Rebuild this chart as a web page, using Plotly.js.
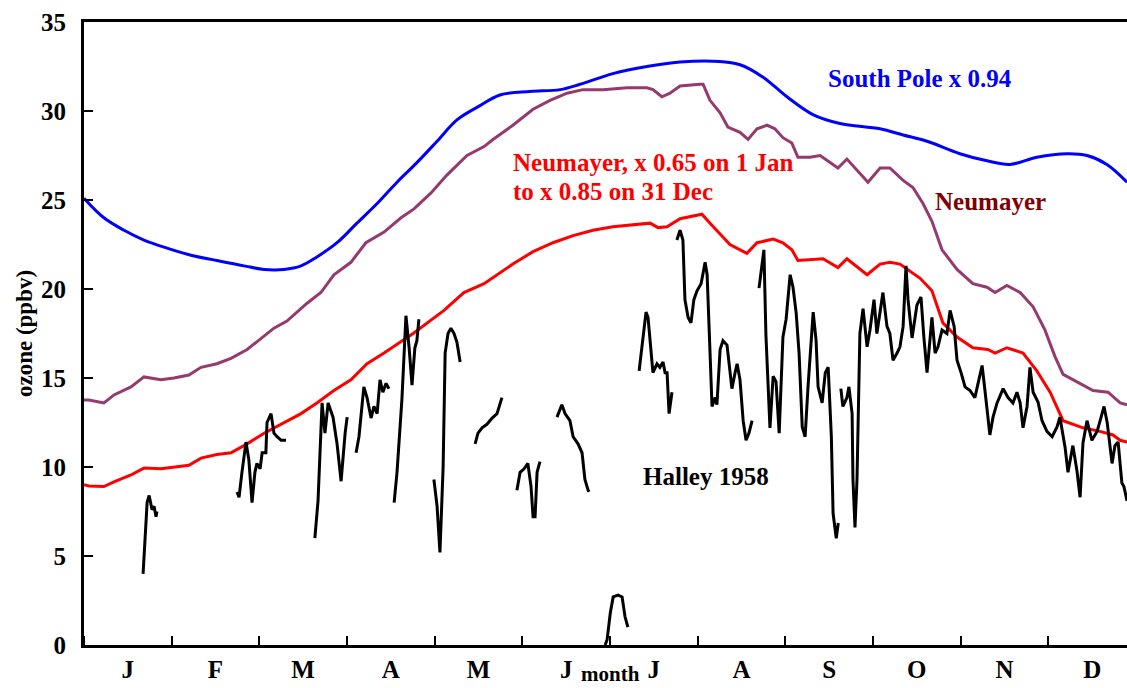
<!DOCTYPE html>
<html>
<head>
<meta charset="utf-8">
<script src="https://cdn.plot.ly/plotly-3.0.1.min.js"></script>
<style>
html,body{margin:0;padding:0;overflow:hidden;background:#fff;}
#chart{width:1140px;height:688px;}
</style>
</head>
<body>
<div id="chart"></div>
<script>
// ---- data (x = day of year, y = ozone ppbv) ----
const monthLabels = ['J','F','M','A','M','J','J','A','S','O','N','D'];

const southPoleDay = [0,6.9,13.9,20.8,28.8,37.1,46.1,55.5,62.5,69.4,75.3,80.8,87.8,94.7,101.7,108.6,115.5,122.5,129.4,137.4,144.3,154.7,165.2,172.1,183.5,195.3,206.8,218.2,227.6,235.6,243.9,252.9,262.3,276.2,284.2,292.5,303.9,313.3,321.3,330.6,341.1,348.0,354.9,361.9];
const southPoleO3 = [25.1,24.0,23.3,22.75,22.3,21.9,21.6,21.3,21.1,21.1,21.3,21.8,22.6,23.7,24.8,26.0,27.1,28.3,29.5,30.3,30.9,31.1,31.2,31.5,32.1,32.5,32.75,32.8,32.6,31.9,30.8,29.8,29.3,29.0,28.65,28.3,27.6,27.2,27.0,27.4,27.6,27.5,27.0,26.0];

const neumayerDay = [0,1.7,6.9,10.4,16.3,20.8,26.7,31.2,36.4,40.6,46.1,51.0,56.6,61.4,65.9,70.4,77.4,82.2,86.7,92.6,97.8,104.1,110.0,114.5,120.4,125.9,132.9,138.8,141.9,148.8,155.8,161.7,167.6,173.1,180.1,188.4,195.3,197.4,200.5,203.3,206.8,213.7,214.8,217.2,220.7,223.4,227.6,230.4,233.5,237.0,239.7,242.5,245.6,247.7,251.9,255.4,258.8,261.6,264.7,268.2,272.0,276.2,279.6,284.2,287.6,291.1,294.2,297.7,302.9,308.4,313.3,316.1,320.2,324.8,329.3,333.4,336.9,339.7,344.5,350.1,355.3,359.5,361.9];
const neumayerO3 = [13.76,13.76,13.6,14.05,14.5,15.06,14.9,15.0,15.17,15.6,15.8,16.1,16.6,17.2,17.8,18.2,19.2,19.8,20.8,21.5,22.6,23.2,24.0,24.5,25.4,26.4,27.5,28.0,28.4,29.2,30.1,30.6,31.0,31.2,31.2,31.3,31.3,31.2,30.8,31.0,31.4,31.5,31.5,30.6,29.9,29.1,28.8,28.4,29.0,29.2,29.0,28.5,28.2,27.4,27.4,27.5,27.1,26.8,27.3,26.7,26.0,26.8,26.8,26.1,25.7,24.8,23.8,22.2,21.1,20.3,20.1,19.8,20.2,19.8,19.0,17.7,16.2,15.2,14.8,14.3,14.2,13.6,13.5];

const scaledDay = [0,1.7,6.9,10.4,16.3,20.8,26.7,31.2,36.4,40.6,46.1,51.0,56.6,62.5,69.4,75.3,80.8,86.7,92.6,98.2,104.1,114.2,124.9,131.8,138.8,148.8,155.8,162.7,169.7,176.6,183.5,190.5,196.4,199.2,202.3,206.8,214.4,217.2,220.7,224.1,230.0,233.5,239.1,242.5,245.6,247.7,256.4,261.6,264.7,271.7,276.2,279.6,283.1,290.1,294.2,298.0,302.9,308.4,313.6,316.1,320.2,325.8,330.6,335.2,339.7,346.6,352.5,357.0,359.5,361.9];
const scaledO3 = [9.0,8.93,8.9,9.16,9.55,9.94,9.9,10.0,10.1,10.5,10.7,10.8,11.3,11.9,12.5,13.0,13.6,14.3,14.9,15.8,16.4,17.5,18.8,19.8,20.3,21.4,22.1,22.6,23.0,23.3,23.5,23.6,23.7,23.45,23.5,23.95,24.2,23.7,23.1,22.5,22.0,22.6,22.8,22.6,22.2,21.6,21.7,21.2,21.7,20.8,21.4,21.5,21.4,20.6,19.9,18.1,17.3,16.7,16.6,16.4,16.7,16.4,15.4,14.2,12.6,12.2,12.0,11.8,11.5,11.4];

// Halley 1958: segments separated by null gaps
const halleyDay = [
 20.5,21.2,21.5,21.9,22.6,23.2,23.6,24.3,25.0,25.3,null,
 53.1,53.8,54.8,56.2,57.2,58.3,59.3,60.0,61.1,61.8,63.1,63.5,64.9,65.9,67.0,68.4,69.4,70.1,null,
 80.1,81.2,82.6,83.6,84.7,86.4,87.8,89.2,90.6,91.3,null,
 94.4,95.4,97.1,98.2,99.6,100.6,101.7,102.7,103.7,104.8,105.8,null,
 107.6,108.6,110.3,111.7,112.8,113.8,114.8,115.5,116.2,null,
 121.4,122.5,123.5,124.6,125.3,126.3,127.3,128.4,129.4,130.5,null,
 135.7,136.7,138.1,139.8,141.6,143.3,145.0,null,
 150.2,151.3,152.7,154.0,155.1,155.8,156.5,157.2,158.2,null,
 164.1,165.8,166.9,168.6,169.7,171.4,172.8,173.8,174.9,175.2,null,
 180.8,181.5,182.6,183.6,185.3,186.7,187.7,188.7,null,
 192.6,193.6,195.0,195.7,196.7,197.4,198.8,199.8,200.9,201.6,202.3,203.0,204.0,null,
 205.7,206.8,207.8,208.5,209.6,210.6,211.6,212.7,214.1,215.5,216.2,216.9,217.9,219.0,219.6,220.7,221.7,223.1,223.8,224.8,225.9,226.6,227.6,228.7,229.7,230.7,231.8,null,
 234.2,235.2,235.9,236.6,237.3,238.0,239.1,240.1,241.2,242.5,243.6,245.0,246.0,247.1,248.1,249.2,250.2,251.2,253.0,254.0,254.7,256.1,257.2,258.2,259.3,259.9,261.0,261.7,null,
 262.6,263.3,264.7,265.4,266.5,266.8,267.5,268.2,269.2,270.3,271.7,272.7,274.1,275.1,277.2,278.6,279.6,280.7,282.1,283.1,284.2,285.2,285.9,287.3,289.0,290.4,291.4,292.5,294.2,295.3,296.3,297.7,299.4,300.5,301.9,302.9,304.3,305.7,307.4,309.1,310.2,311.6,312.6,314.3,315.4,316.8,318.9,320.6,322.3,323.7,324.8,325.8,327.2,328.2,329.3,331.0,332.4,334.1,335.9,337.6,338.6,340.4,341.4,343.1,344.5,345.6,346.6,348.0,349.7,351.5,352.9,353.9,355.0,356.7,357.7,358.8,360.1,360.8,361.9
];
const halleyO3 = [
 4.0,6.0,7.0,8.0,8.4,7.9,7.6,7.8,7.2,7.5,null,
 8.6,8.3,9.7,11.4,10.4,8.0,9.7,10.2,9.9,10.8,10.8,12.5,13.0,11.9,11.7,11.5,11.5,11.5,null,
 6.0,8.1,13.6,11.9,13.6,12.8,11.3,9.2,11.9,12.8,null,
 10.8,11.7,14.5,13.9,12.75,13.4,13.0,14.9,14.2,14.7,14.4,null,
 8.0,9.7,13.8,18.5,16.7,14.6,16.7,17.1,18.3,null,
 9.3,7.8,5.2,10.0,16.4,17.5,17.8,17.5,17.0,15.9,null,
 11.3,11.9,12.2,12.4,12.75,13.0,13.9,null,
 8.7,9.7,9.9,10.2,8.9,7.2,7.2,9.7,10.3,null,
 12.8,13.5,13.0,12.6,11.7,11.3,10.8,9.3,8.7,8.6,null,
 0.0,0.3,1.8,2.7,2.8,2.7,1.6,1.0,null,
 15.4,16.7,18.7,18.4,16.7,15.3,15.8,15.6,15.9,15.3,15.3,13.0,14.2,null,
 22.75,23.3,22.75,19.4,18.4,18.1,19.4,19.9,20.3,21.5,20.8,18.1,13.4,13.9,13.5,16.6,17.1,16.85,15.8,14.4,15.3,15.8,14.9,12.6,11.5,11.9,12.6,null,
 20.05,21.5,22.2,17.4,14.5,12.2,15.1,14.8,11.9,17.3,18.3,20.8,20.1,18.65,16.4,12.25,11.7,14.5,18.7,17.1,14.5,13.6,15.3,15.6,11.7,7.4,6.0,6.85,null,
 14.4,13.4,13.9,14.5,13.0,9.3,6.6,9.3,17.5,18.9,16.75,17.7,19.4,17.5,19.8,17.9,17.5,16.0,16.4,16.75,17.9,21.3,19.4,17.25,19.1,19.55,17.3,15.3,18.4,16.4,16.75,17.7,17.5,18.8,17.9,16.0,15.3,14.5,14.3,13.9,14.7,15.7,14.3,11.8,12.8,13.6,14.4,13.9,13.6,14.2,13.6,12.2,13.4,15.6,14.2,13.65,12.6,12.0,11.7,12.25,12.8,11.1,9.7,11.2,9.8,8.3,11.35,12.6,11.5,12.0,12.8,13.4,12.5,10.2,11.2,11.4,9.1,8.9,8.1
];

// ---- axis helpers (month geometry) ----
const monthLen = 365/12;
const monthCenters = monthLabels.map((_, i) => (i + 0.5) * monthLen);

const FONT = '"Liberation Serif", "Times New Roman", Times, serif';

const traces = [
  {x: southPoleDay, y: southPoleO3, mode: 'lines', name: 'South Pole x 0.94',
   line: {color: '#0000ff', width: 3, shape: 'spline'}},
  {x: neumayerDay, y: neumayerO3, mode: 'lines', name: 'Neumayer',
   line: {color: '#953a6e', width: 3}},
  {x: scaledDay, y: scaledO3, mode: 'lines', name: 'Neumayer scaled',
   line: {color: '#ff0000', width: 3}},
  {x: halleyDay, y: halleyO3, mode: 'lines', name: 'Halley 1958', connectgaps: false,
   line: {color: '#000000', width: 3}}
];

const annFont = (c, s) => ({family: FONT, size: s || 25, color: c, weight: 'bold'});

const layout = {
  width: 1140, height: 688,
  margin: {l: 84, r: 4, t: 22, b: 43},
  paper_bgcolor: '#fff', plot_bgcolor: '#fff',
  showlegend: false,
  font: {family: FONT, size: 25, color: '#000', weight: 'bold'},
  xaxis: {
    range: [0, 365], showgrid: false, zeroline: false,
    showline: true, linecolor: '#000', linewidth: 3, mirror: true,
    tickmode: 'array', tickvals: monthCenters, ticktext: monthLabels, ticks: '',
    tickfont: {family: FONT, size: 25, color: '#000', weight: 'bold'},
    minor: {tickmode: 'linear', tick0: 0, dtick: monthLen, ticks: 'inside', ticklen: 9, tickwidth: 2, tickcolor: '#000', showgrid: false}
  },
  yaxis: {
    range: [0, 35], dtick: 5, tick0: 0, showgrid: false, zeroline: false,
    showline: true, linecolor: '#000', linewidth: 3, mirror: true,
    ticks: 'inside', ticklen: 9, tickwidth: 2, tickcolor: '#000',
    ticklabelstandoff: 10,
    tickfont: {family: FONT, size: 25, color: '#000', weight: 'bold'},
    title: {text: 'ozone (ppbv)', font: {family: FONT, size: 23, color: '#000', weight: 'bold'}, standoff: 2}
  },
  annotations: [
    {xref: 'paper', yref: 'paper', x: 0.5, y: -0.0674, xanchor: 'center', yanchor: 'bottom', showarrow: false,
     text: 'month', font: annFont('#000', 21), borderpad: 0},
    {x: 257.4, y: 31.8, xanchor: 'left', yanchor: 'middle', showarrow: false, text: 'South Pole x 0.94', font: annFont('#0000ff')},
    {x: 148.2, y: 27.13, xanchor: 'left', yanchor: 'middle', showarrow: false, text: 'Neumayer, x 0.65 on 1 Jan', font: annFont('#ff0000')},
    {x: 148.2, y: 25.5, xanchor: 'left', yanchor: 'middle', showarrow: false, text: 'to x 0.85 on 31 Dec', font: annFont('#ff0000')},
    {x: 294.6, y: 24.94, xanchor: 'left', yanchor: 'middle', showarrow: false, text: 'Neumayer', font: annFont('#800000')},
    {x: 193.3, y: 9.49, xanchor: 'left', yanchor: 'middle', showarrow: false, text: 'Halley 1958', font: annFont('#000000')}
  ]
};

Plotly.newPlot('chart', traces, layout, {staticPlot: true, displayModeBar: false});
</script>
</body>
</html>
